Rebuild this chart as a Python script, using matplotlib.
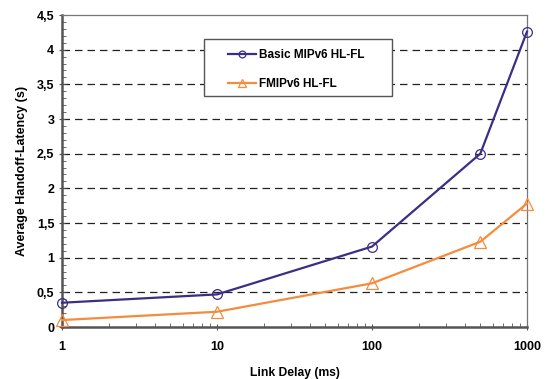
import matplotlib
matplotlib.use("Agg")
import matplotlib.pyplot as plt
from matplotlib.patches import Rectangle
from matplotlib.ticker import FixedLocator, FuncFormatter, MultipleLocator

delay = [1, 10, 100, 500, 1000]
basic_mipv6 = [0.35, 0.47, 1.16, 2.50, 4.26]
fmipv6 = [0.10, 0.22, 0.63, 1.23, 1.78]
x_ticks = [1, 10, 100, 1000]
y_ticks = [0, 0.5, 1, 1.5, 2, 2.5, 3, 3.5, 4, 4.5]

plt.rcParams['font.family'] = ['Liberation Sans', 'DejaVu Sans']
plt.rcParams['font.weight'] = 'bold'

fig = plt.figure(figsize=(5.47, 3.79), dpi=100)
ax = fig.add_axes([0.1133, 0.1372, 0.8501, 0.8232])

ax.plot(delay, basic_mipv6, color='#3b2f85', lw=1.6, marker='o', ms=7,
        mfc='none', mec='#3b2f85', mew=0.9, label='Basic MIPv6 HL-FL',
        clip_on=False, zorder=3)
ax.plot(delay, fmipv6, color='#f58b3c', lw=1.6, marker='^', ms=8,
        mfc='none', mec='#f58b3c', mew=0.9, label='FMIPv6 HL-FL',
        clip_on=False, zorder=3)

ax.set_xscale('log')
ax.set_xlim(1, 1000)
ax.set_ylim(0, 4.5)
ax.xaxis.set_major_locator(FixedLocator(x_ticks))
ax.xaxis.set_major_formatter(FuncFormatter(lambda v, p: '%d' % v))
ax.yaxis.set_major_locator(FixedLocator(y_ticks))
ax.yaxis.set_minor_locator(MultipleLocator(0.1))
ax.yaxis.set_major_formatter(
    FuncFormatter(lambda v, p: ('%g' % v).replace('.', ',')))

for y in y_ticks[1:-1]:
    ax.axhline(y, color='#222222', lw=0.9, ls=(0, (6, 4)), zorder=1)

ax.tick_params(axis='both', which='major', labelsize=9, length=4,
               color='#555555', direction='inout')
ax.tick_params(axis='y', which='minor', length=3, direction='in',
               color='#555555')
ax.tick_params(axis='x', which='minor', length=3, direction='in',
               color='#555555')
ax.tick_params(axis='x', which='major', pad=8)

for side in ['left', 'bottom']:
    ax.spines[side].set_color('#555555')
    ax.spines[side].set_linewidth(1.8)
for side in ['top', 'right']:
    ax.spines[side].set_color('#777777')
    ax.spines[side].set_linewidth(0.9)

ax.set_xlabel('Link Delay (ms)', fontsize=8.7, fontweight='bold', labelpad=10)
ax.set_ylabel('Average Handoff-Latency (s)', fontsize=9, fontweight='bold',
              labelpad=6)

# legend frame drawn separately so it can be wider than its contents
ax.add_patch(Rectangle((0.305, 0.741), 0.404, 0.183, transform=ax.transAxes,
                       facecolor='white', edgecolor='#555555', lw=1.0,
                       zorder=4))
leg = ax.legend(loc='upper left', bbox_to_anchor=(0.357, 0.892),
                fontsize=8.5, frameon=False, borderpad=0,
                labelspacing=1.45, handlelength=2.4, handletextpad=0.25,
                borderaxespad=0, markerscale=0.7)
leg.set_zorder(5)

fig.savefig('out.png', dpi=100)
